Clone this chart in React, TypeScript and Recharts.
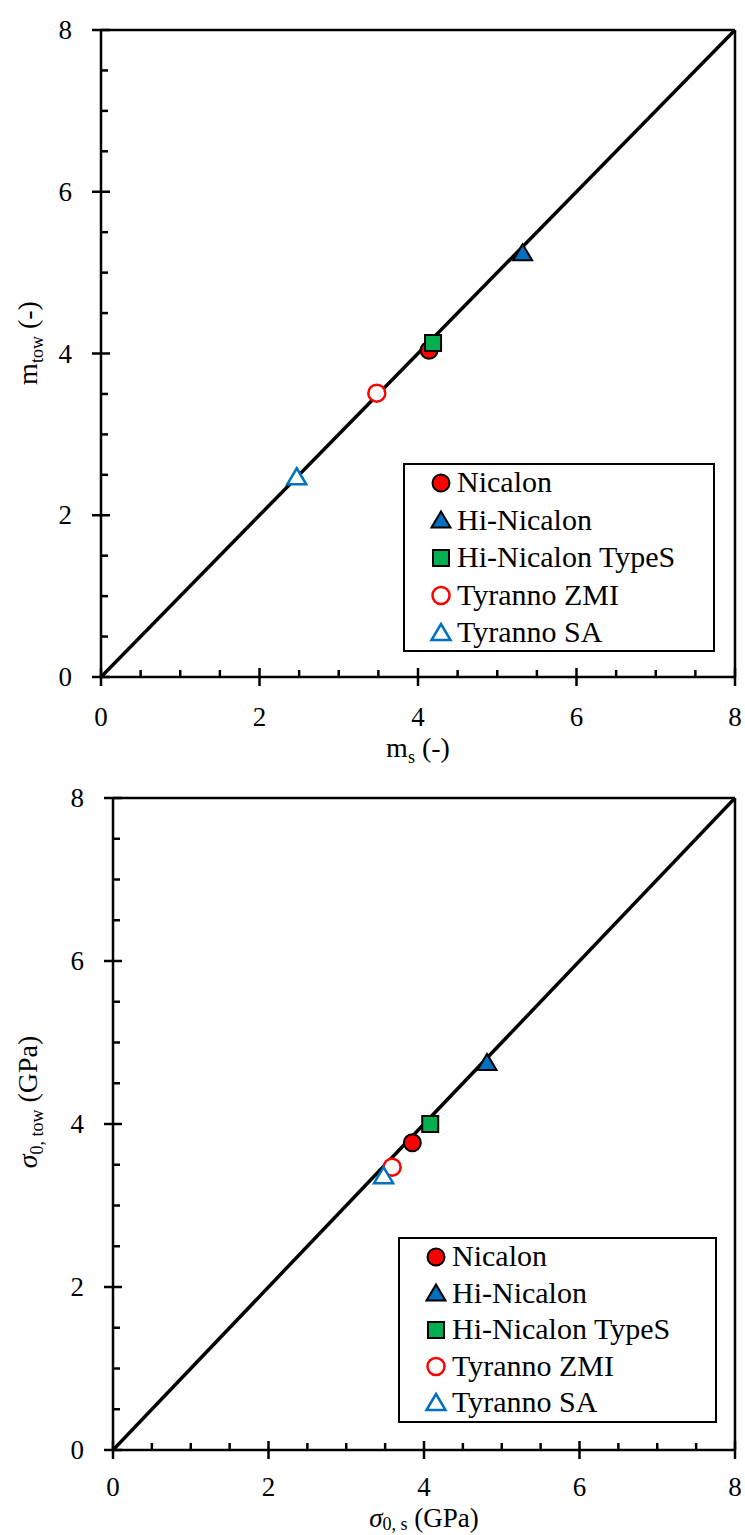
import React from "react";
import {
  Label,
  Legend,
  ReferenceLine,
  Scatter,
  ScatterChart,
  XAxis,
  YAxis,
} from "recharts";

const fiberNames = [
  "Nicalon",
  "Hi-Nicalon",
  "Hi-Nicalon TypeS",
  "Tyranno ZMI",
  "Tyranno SA",
];

// Weibull modulus: single filament vs tow
const modulusSingle = [4.14, 5.32, 4.19, 3.48, 2.47];
const modulusTow = [4.04, 5.24, 4.13, 3.51, 2.47];

// scale parameter (GPa): single filament vs tow
const strengthSingle = [3.85, 4.81, 4.08, 3.59, 3.48];
const strengthTow = [3.77, 4.75, 4.0, 3.47, 3.36];

const parityX = [0, 8];
const parityY = [0, 8];

const majorTicks = [0, 2, 4, 6, 8];
const allTicks = [0, 0.5, 1, 1.5, 2, 2.5, 3, 3.5, 4, 4.5, 5, 5.5, 6, 6.5, 7, 7.5, 8];

const markerKinds = ["circle", "triangle", "square", "circle", "triangle"];
const markerColors = ["#FF0000", "#0070C0", "#00B050", "#FF0000", "#0070C0"];
const markerFilled = [true, true, true, false, false];

const FONT = "Times New Roman, Liberation Serif, Tinos, DejaVu Serif, serif";

function Marker({ cx, cy, i }: { cx: number; cy: number; i: number }) {
  const kind = markerKinds[i];
  const color = markerColors[i];
  const filled = markerFilled[i];
  const fill = filled ? color : "#fff";
  const stroke = filled ? "#000" : color;
  const sw = filled ? 2 : 2.5;
  if (kind === "circle") {
    return <circle cx={cx} cy={cy} r={8.5} fill={fill} stroke={stroke} strokeWidth={sw} />;
  }
  if (kind === "square") {
    return <rect x={cx - 8} y={cy - 8} width={16} height={16} fill={fill} stroke={stroke} strokeWidth={sw} />;
  }
  return (
    <polygon
      points={`${cx},${cy - 9} ${cx + 9.5},${cy + 7} ${cx - 9.5},${cy + 7}`}
      fill={fill}
      stroke={stroke}
      strokeWidth={sw}
    />
  );
}

function XTick(props: any) {
  const { x, y, payload, labelGap = 49 } = props;
  const v = payload.value;
  const major = majorTicks.includes(v);
  return (
    <g>
      {major ? (
        <line x1={x} x2={x} y1={y - 9} y2={y + 9} stroke="#000" strokeWidth={2.5} />
      ) : (
        <line x1={x} x2={x} y1={y} y2={y - 7} stroke="#000" strokeWidth={2.5} />
      )}
      {major && (
        <text x={x} y={y + labelGap} textAnchor="middle" fontFamily={FONT} fontSize={27} fill="#000">
          {v}
        </text>
      )}
    </g>
  );
}

function YTick(props: any) {
  const { x, y, payload } = props;
  const v = payload.value;
  const major = majorTicks.includes(v);
  return (
    <g>
      {major ? (
        <line x1={x - 9} x2={x + 9} y1={y} y2={y} stroke="#000" strokeWidth={2.5} />
      ) : (
        <line x1={x} x2={x + 7} y1={y} y2={y} stroke="#000" strokeWidth={2.5} />
      )}
      {major && (
        <text x={x - 29} y={y + 9} textAnchor="end" fontFamily={FONT} fontSize={27} fill="#000">
          {v}
        </text>
      )}
    </g>
  );
}

function LegendBox({ width, height, rowGap }: { width: number; height: number; rowGap: number }) {
  return (
    <svg width={width} height={height} style={{ display: "block" }}>
      <rect x={1} y={1} width={width - 2} height={height - 2} fill="#fff" stroke="#000" strokeWidth={2} />
      {fiberNames.map((name, i) => {
        const cy = 20 + i * rowGap;
        return (
          <g key={name}>
            <Marker cx={38} cy={cy} i={i} />
            <text x={54} y={cy + 9} fontFamily={FONT} fontSize={30} fill="#000">
              {name}
            </text>
          </g>
        );
      })}
    </svg>
  );
}

type PanelProps = {
  top: number;
  height: number;
  plotTop: number;
  plotLeft: number;
  plotBottom: number;
  xs: number[];
  ys: number[];
  kind: "m" | "sigma";
  yLabelMid: number;
  tickGap: number;
  legend: { left: number; top: number; width: number; height: number; rowGap: number };
};

function ParityPanel(p: PanelProps) {
  const width = 745;
  const marginBottom = p.height - p.plotBottom - 60;
  const plotRight = 735;
  const midX = (p.plotLeft + plotRight) / 2;
  const parity = parityX.map((x, i) => ({ x, y: parityY[i] }));

  const xTitle = () =>
    p.kind === "m" ? (
      <text x={midX} y={p.plotBottom + 80} textAnchor="middle" fontFamily={FONT} fontSize={28} fill="#000">
        m
        <tspan fontSize={18} dy={6}>s</tspan>
        <tspan dy={-6}> (-)</tspan>
      </text>
    ) : (
      <text x={midX} y={p.plotBottom + 77} textAnchor="middle" fontFamily={FONT} fontSize={27} fill="#000">
        <tspan fontStyle="italic">σ</tspan>
        <tspan fontSize={18} dy={3}>0, s</tspan>
        <tspan dy={-3}> (GPa)</tspan>
      </text>
    );

  const yTitle = () => (
    <text
      x={37}
      y={p.yLabelMid}
      transform={`rotate(-90 37 ${p.yLabelMid})`}
      textAnchor="middle"
      fontFamily={FONT}
      fontSize={28}
      fill="#000"
    >
      {p.kind === "m" ? (
        <>
          m
          <tspan fontSize={18} dy={6}>tow</tspan>
          <tspan dy={-6}> (-)</tspan>
        </>
      ) : (
        <>
          <tspan fontStyle="italic">σ</tspan>
          <tspan fontSize={18} dy={6}>0, tow</tspan>
          <tspan dy={-6}> (GPa)</tspan>
        </>
      )}
    </text>
  );

  return (
    <div style={{ position: "absolute", left: 0, top: p.top, width, height: p.height }}>
      <ScatterChart
        width={width}
        height={p.height}
        margin={{ top: p.plotTop, right: width - plotRight, bottom: marginBottom, left: 0 }}
      >
        <XAxis
          type="number"
          dataKey="x"
          domain={[0, 8]}
          ticks={allTicks}
          interval={0}
          height={60}
          tickSize={0}
          tickMargin={0}
          tickLine={false}
          axisLine={{ stroke: "#000", strokeWidth: 2.5 }}
          tick={<XTick labelGap={p.tickGap} />}
          allowDataOverflow
        >
          <Label content={xTitle} />
        </XAxis>
        <YAxis
          type="number"
          dataKey="y"
          domain={[0, 8]}
          ticks={allTicks}
          interval={0}
          width={p.plotLeft}
          tickSize={0}
          tickMargin={0}
          tickLine={false}
          axisLine={{ stroke: "#000", strokeWidth: 2.5 }}
          tick={<YTick />}
          allowDataOverflow
        >
          <Label content={yTitle} />
        </YAxis>
        <ReferenceLine y={8} stroke="#000" strokeWidth={2.5} />
        <ReferenceLine x={8} stroke="#000" strokeWidth={2.5} />
        <Scatter
          data={parity}
          line={{ stroke: "#000", strokeWidth: 3.5 }}
          shape={() => <g />}
          legendType="none"
          isAnimationActive={false}
        />
        {fiberNames.map((name, i) => (
          <Scatter
            key={name}
            name={name}
            data={[{ x: p.xs[i], y: p.ys[i] }]}
            shape={(s: any) => <Marker cx={s.cx} cy={s.cy} i={i} />}
            isAnimationActive={false}
          />
        ))}
        <Legend
          layout="horizontal"
          verticalAlign="middle"
          align="center"
          wrapperStyle={{
            position: "absolute",
            left: p.legend.left,
            top: p.legend.top,
            width: p.legend.width,
            height: p.legend.height,
          }}
          content={() => (
            <LegendBox width={p.legend.width} height={p.legend.height} rowGap={p.legend.rowGap} />
          )}
        />
      </ScatterChart>
    </div>
  );
}

export default function App() {
  return (
    <div
      style={{
        position: "absolute",
        left: 0,
        top: 0,
        width: 745,
        height: 1535,
        background: "#fff",
      }}
    >
      <ParityPanel
        top={0}
        height={780}
        plotTop={30}
        plotLeft={101}
        plotBottom={677}
        xs={modulusSingle}
        ys={modulusTow}
        kind="m"
        yLabelMid={343}
        tickGap={49}
        legend={{ left: 403, top: 463, width: 312, height: 189, rowGap: 37.5 }}
      />
      <ParityPanel
        top={770}
        height={765}
        plotTop={28}
        plotLeft={113}
        plotBottom={680}
        xs={strengthSingle}
        ys={strengthTow}
        kind="sigma"
        yLabelMid={332}
        tickGap={46}
        legend={{ left: 398, top: 467, width: 319, height: 186, rowGap: 36.5 }}
      />
    </div>
  );
}
